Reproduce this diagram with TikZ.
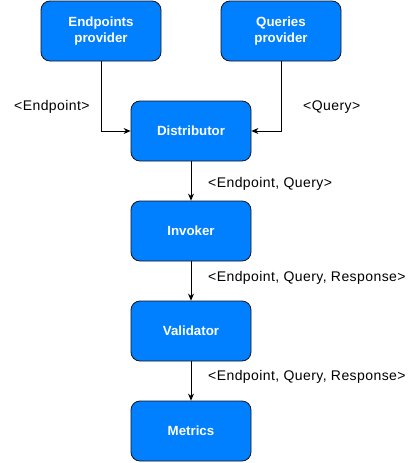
\documentclass[tikz,border=0pt]{standalone}
\usepackage{fontspec}
\setmainfont{Liberation Sans}
\usetikzlibrary{arrows.meta}
\definecolor{boxblue}{RGB}{0,127,255}
\definecolor{boxline}{RGB}{20,20,30}
\begin{document}
\begin{tikzpicture}[x=1pt,y=-1pt,
  blockbox/.style={draw=boxline,fill=boxblue,rounded corners=9pt,line width=0.8pt,
    minimum width=120pt,minimum height=60pt,inner sep=0pt,
    text=white,font=\fontsize{13.3}{16}\selectfont\bfseries,align=center},
  flow/.style={draw=black,line width=0.8pt,-{Stealth[length=7pt,width=6pt]}},
  lbl/.style={font=\fontsize{14}{16}\selectfont\addfontfeature{LetterSpace=3},inner sep=0pt,anchor=base west}]
\useasboundingbox (0,0) rectangle (413,463);
\node[blockbox] (ep) at (101,31) {Endpoints\\provider};
\node[blockbox] (qp) at (281,31) {Queries\\provider};
\node[blockbox] (dist) at (191,131) {Distributor};
\node[blockbox] (inv) at (191,231) {Invoker};
\node[blockbox] (val) at (191,331) {Validator};
\node[blockbox] (met) at (191,431) {Metrics};
\draw[flow] (ep.south) |- (dist.west);
\draw[flow] (qp.south) |- (dist.east);
\draw[flow] (dist) -- (inv);
\draw[flow] (inv) -- (val);
\draw[flow] (val) -- (met);
\node[lbl] (l1) at (14,110) {<Endpoint>};
\node[lbl] (l2) at (303,110) {<Query>};
\node[lbl] (l3) at (208,187) {<Endpoint, Query>};
\node[lbl] (l4) at (208,281) {<Endpoint, Query, Response>};
\node[lbl] (l5) at (208,380) {<Endpoint, Query, Response>};
\end{tikzpicture}
\end{document}
